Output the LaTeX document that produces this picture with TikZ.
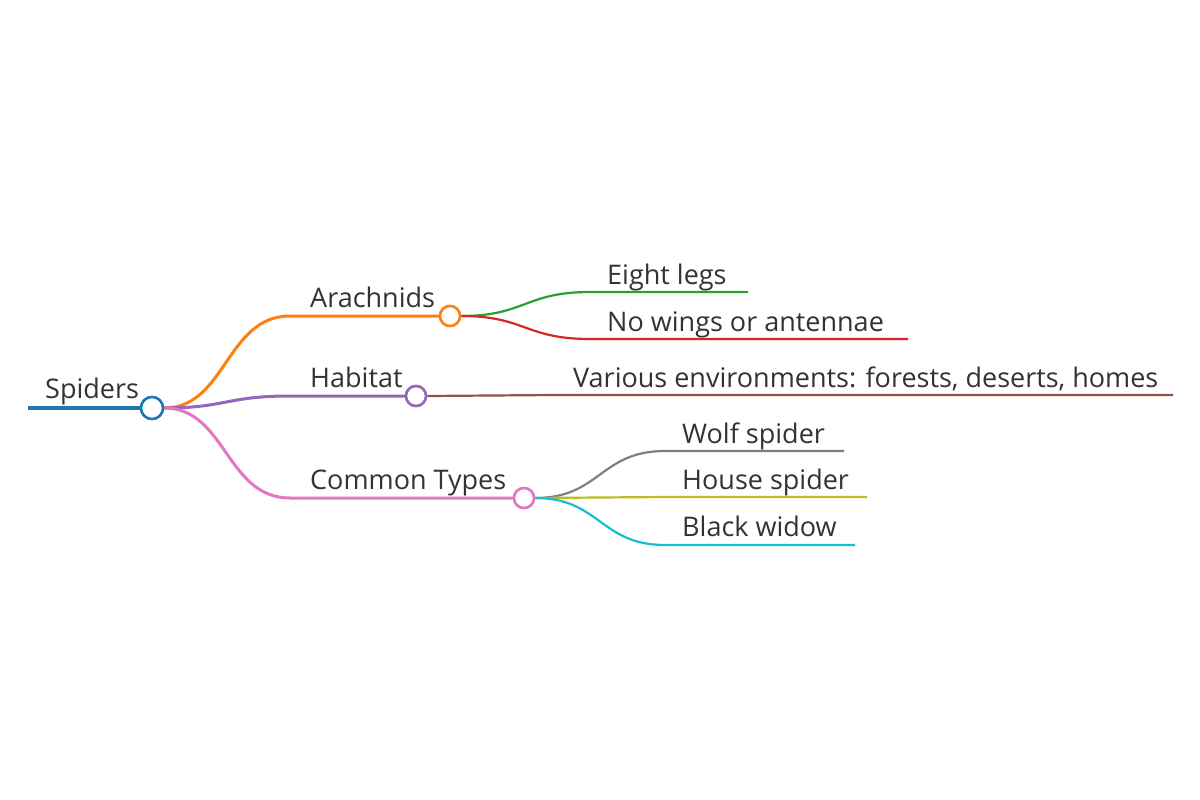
\documentclass[tikz,border=0pt]{standalone}
\usepackage{fontspec}
\setmainfont{Open Sans}
\definecolor{txt}{HTML}{333333}
\definecolor{cRoot}{HTML}{1F77B4}
\definecolor{cArach}{HTML}{FF7F0E}
\definecolor{cHab}{HTML}{9467BD}
\definecolor{cTypes}{HTML}{E377C2}
\definecolor{cEight}{HTML}{2CA02C}
\definecolor{cWings}{HTML}{D62728}
\definecolor{cEnv}{HTML}{8C564B}
\definecolor{cWolf}{HTML}{7F7F7F}
\definecolor{cHouse}{HTML}{BCBD22}
\definecolor{cWidow}{HTML}{17BECF}
\tikzset{
  lbl/.style={anchor=base west, inner sep=0pt, text=txt, font=\fontsize{27}{31}\selectfont},
  knot/.style={circle, draw=#1, fill=white, line width=2.5pt, minimum size=20pt, inner sep=0pt},
  trunk/.style={draw=#1, line width=4.5pt},
  branch/.style={draw=#1, line width=3pt},
  twig/.style={draw=#1, line width=2.2pt},
}
\begin{document}
\begin{tikzpicture}[x=1pt, y=-1pt]
        \useasboundingbox [fill=white] (0, 0) rectangle (1200, 800);
        % knots
        \coordinate (root-s) at (28, 408);
        \node [knot=cRoot, minimum size=22pt] (spiders) at (152, 408) {};
        \node [knot=cArach] (arach) at (450, 316) {};
        \node [knot=cHab] (hab) at (416, 396) {};
        \node [knot=cTypes] (types) at (524, 498) {};
        % line ends
        \coordinate (arach-s) at (290, 316);
        \coordinate (hab-s) at (290, 396);
        \coordinate (types-s) at (290, 498);
        \coordinate (eight-s) at (590, 292);
        \coordinate (eight-e) at (748, 292);
        \coordinate (wings-s) at (590, 339);
        \coordinate (wings-e) at (908, 339);
        \coordinate (env-s) at (555, 395);
        \coordinate (env-e) at (1173, 395);
        \coordinate (wolf-s) at (665, 451);
        \coordinate (wolf-e) at (844, 451);
        \coordinate (house-s) at (665, 497);
        \coordinate (house-e) at (867, 497);
        \coordinate (widow-s) at (665, 545);
        \coordinate (widow-e) at (855, 545);
        % connectors
        \draw [trunk=cRoot] (root-s) -- (spiders.west);
        \draw [branch=cArach] (spiders.east) .. controls (226, 408) and (226, 316) .. (arach-s) -- (arach.west);
        \draw [branch=cHab] (spiders.east) .. controls (226, 408) and (226, 396) .. (hab-s) -- (hab.west);
        \draw [branch=cTypes] (spiders.east) .. controls (226, 408) and (226, 498) .. (types-s) -- (types.west);
        \draw [twig=cEight] (arach.east) .. controls (525, 316) and (525, 292) .. (eight-s) -- (eight-e);
        \draw [twig=cWings] (arach.east) .. controls (525, 316) and (525, 339) .. (wings-s) -- (wings-e);
        \draw [twig=cEnv] (hab.east) .. controls (491, 396) and (491, 395) .. (env-s) -- (env-e);
        \draw [twig=cWolf] (types.east) .. controls (600, 498) and (600, 451) .. (wolf-s) -- (wolf-e);
        \draw [twig=cHouse] (types.east) .. controls (600, 498) and (600, 497) .. (house-s) -- (house-e);
        \draw [twig=cWidow] (types.east) .. controls (600, 498) and (600, 545) .. (widow-s) -- (widow-e);
        % knots again, over the line ends
        \node [knot=cRoot, minimum size=22pt] at (spiders) {};
        \node [knot=cArach] at (arach) {};
        \node [knot=cHab] at (hab) {};
        \node [knot=cTypes] at (types) {};
        % labels
        \node [lbl] (t-spiders) at (45, 398) {Spiders};
        \node [lbl] (t-arach) at (310, 307) {Arachnids};
        \node [lbl] (t-hab) at (310, 387) {Habitat};
        \node [lbl] (t-types) at (310, 489) {Common Types};
        \node [lbl] (t-eight) at (607, 284) {Eight legs};
        \node [lbl] (t-wings) at (607, 331) {No wings or antennae};
        \node [lbl] (t-env) at (573, 387) {Various environments: forests, deserts, homes};
        \node [lbl] (t-wolf) at (682, 443) {Wolf spider};
        \node [lbl] (t-house) at (682, 489) {House spider};
        \node [lbl] (t-widow) at (682, 536) {Black widow};
\end{tikzpicture}
\end{document}
